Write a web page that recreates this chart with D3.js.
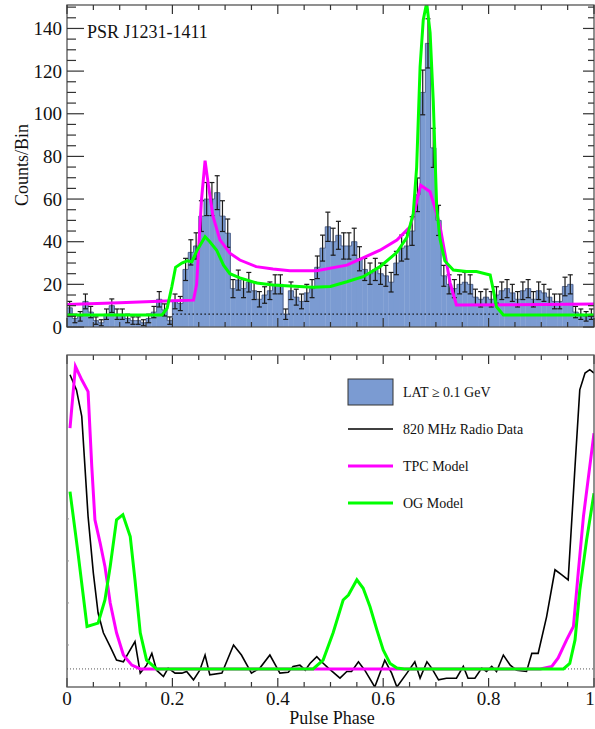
<!DOCTYPE html>
<html><head><meta charset="utf-8">
<script src="https://cdn.jsdelivr.net/npm/d3@7"></script>
<style>body{margin:0;background:#fff}svg{display:block}text{font-family:"Liberation Serif","DejaVu Serif",serif;fill:#111}</style>
</head><body><svg id="c" width="595" height="729"></svg>
<script>
// ---- data ----
const counts = [9,4,5,12,7,3,2,6,10,6, 6,4,3,3,2,4,7,13,8,3,
  12,11,27,35,38,52,60,60,63,52, 44,18,22,18,21,17,13,15,17,20,
  20,6,17,14,12,16,18,28,37,47, 40,43,38,38,40,32,27,25,27,25,
  24,21,30,37,38,45,62,110,133,84, 50,24,20,18,20,21,20,14,13,14,
  13,15,17,18,16,13,17,18,13,17, 16,14,12,12,19,20,7,6,5,6];
const tpcTop = [[0,10.6],[0.10,11.4],[0.20,12.3],[0.240,12.6],[0.246,20],[0.255,59],[0.262,78],[0.268,67],[0.277,52],[0.290,41],[0.309,34.6],[0.328,31.4],[0.359,28.3],[0.391,27.2],[0.423,26.4],[0.474,26.4],[0.531,29],[0.594,36],[0.626,40.8],[0.651,47],[0.662,57],[0.671,66.5],[0.689,63.4],[0.698,56],[0.708,47],[0.717,34.6],[0.727,20.6],[0.739,10.3],[0.85,10.4],[1.0,10.8]];
const ogTop = [[0,5.6],[0.18,5.6],[0.19,8.8],[0.199,19],[0.206,28],[0.218,30],[0.228,31],[0.237,30.6],[0.247,36],[0.262,42.3],[0.271,40],[0.284,36],[0.297,29],[0.309,25],[0.328,23],[0.36,20.6],[0.391,19.7],[0.423,19.2],[0.467,18.6],[0.50,19],[0.531,21.2],[0.562,23.6],[0.594,28.3],[0.626,35],[0.645,42],[0.657,53],[0.6635,75],[0.670,122],[0.676,144],[0.6825,152],[0.689,138],[0.695,106],[0.698,83],[0.7015,56],[0.708,41],[0.717,31],[0.733,26.7],[0.758,26],[0.777,26],[0.803,24.4],[0.809,17.3],[0.815,9.5],[0.828,5.6],[1,5.6]];
const background = {from:0.2, to:0.82, level:6};
const radio = [[0.0057,7.43],[0.018,7.07],[0.028,6.44],[0.040,4.06],[0.05,2.71],[0.059,1.76],[0.069,1.29],[0.082,0.96],[0.094,0.64],[0.107,0.60],[0.116,0.80],[0.129,1.08],[0.139,0.33],[0.151,0.52],[0.161,0.80],[0.170,0.40],[0.183,0.25],[0.192,0.45],[0.205,0.33],[0.218,0.33],[0.227,0.37],[0.240,0.17],[0.252,0.40],[0.262,0.76],[0.271,0.29],[0.294,0.33],[0.316,1.0],[0.331,0.76],[0.350,0.33],[0.366,0.45],[0.385,0.76],[0.404,0.33],[0.42,0.35],[0.429,0.49],[0.442,0.52],[0.452,0.40],[0.461,0.56],[0.474,0.72],[0.483,0.60],[0.496,0.45],[0.518,0.21],[0.531,0.37],[0.540,0.37],[0.553,0.60],[0.565,0.40],[0.584,0.0],[0.603,0.64],[0.616,0.33],[0.626,0.0],[0.645,0.33],[0.660,0.60],[0.670,0.21],[0.683,0.60],[0.692,0.45],[0.705,0.17],[0.720,0.21],[0.739,0.21],[0.752,0.49],[0.761,0.21],[0.774,0.21],[0.787,0.45],[0.796,0.37],[0.806,0.49],[0.815,0.37],[0.828,0.76],[0.841,0.52],[0.853,0.40],[0.872,0.37],[0.882,0.80],[0.894,0.80],[0.910,1.67],[0.926,2.79],[0.939,2.67],[0.951,2.55],[0.964,5.25],[0.973,7.07],[0.983,7.47],[0.992,7.55],[1.0,7.47]];
const tpcBot = [[0.0057,6.16],[0.016,7.63],[0.028,7.31],[0.040,7.03],[0.047,5.25],[0.053,3.98],[0.063,3.42],[0.072,2.87],[0.082,2.0],[0.094,1.29],[0.107,0.76],[0.123,0.52],[0.139,0.43],[0.898,0.43],[0.920,0.49],[0.932,0.69],[0.948,1.12],[0.961,1.44],[0.970,2.71],[0.980,4.06],[0.992,5.25],[1.0,6.04]];
const ogBot = [[0.0057,4.65],[0.021,3.18],[0.038,1.44],[0.059,1.52],[0.072,2.07],[0.082,2.87],[0.094,3.98],[0.106,4.10],[0.12,3.58],[0.129,2.55],[0.139,1.29],[0.151,0.64],[0.17,0.43],[0.467,0.43],[0.486,0.64],[0.505,1.29],[0.524,2.07],[0.534,2.19],[0.550,2.55],[0.562,2.35],[0.575,1.91],[0.588,1.36],[0.600,0.88],[0.613,0.56],[0.626,0.45],[0.640,0.43],[0.942,0.43],[0.954,0.56],[0.964,1.12],[0.973,2.30],[0.986,3.5],[1.0,4.61]];
const radioBaseline = 0.43;
const topYTicks = [0,20,40,60,80,100,120,140];
const xTicks = [0,0.2,0.4,0.6,0.8,1];
const xTickLabels = ["0","0.2","0.4","0.6","0.8","1"];
const legendItems = [
  {label:"LAT \u2265 0.1 GeV", type:"box", color:"#7b9bd2"},
  {label:"820 MHz Radio Data", type:"line", color:"#000", w:1.6},
  {label:"TPC Model", type:"line", color:"#ff00ff", w:3},
  {label:"OG Model", type:"line", color:"#00ff00", w:3}];
const title = "PSR J1231-1411";

// ---- layout ----
const svg = d3.select("#c");
const L = 67, R = 594;
const x = d3.scaleLinear().domain([0,1]).range([L,R]);
const yT = d3.scaleLinear().domain([0,151]).range([327,5]);
const yB = d3.scaleLinear().domain([0,7.9]).range([687,355]);
const BAR = "#7b9bd2";

svg.append("defs").html('<clipPath id="ct"><rect x="'+L+'" y="5" width="'+(R-L)+'" height="322"/></clipPath><clipPath id="cb"><rect x="'+L+'" y="355" width="'+(R-L)+'" height="332"/></clipPath>');

// --- top panel ---
const gT = svg.append("g").attr("clip-path","url(#ct)");
const nb = counts.length, bw = 1/nb;
gT.selectAll("rect.bar").data(counts).join("rect")
  .attr("x",(d,i)=>x(i*bw)).attr("width",x(bw)-x(0)+0.3)
  .attr("y",d=>yT(d)).attr("height",d=>yT(0)-yT(d)).attr("fill",BAR);
const step = [];
counts.forEach((d,i)=>{step.push([i*bw,d]);step.push([(i+1)*bw,d]);});
gT.append("path").attr("d",d3.line().x(d=>x(d[0])).y(d=>yT(d[1]))(step))
  .attr("fill","none").attr("stroke","#3d4f78").attr("stroke-width",0.8);
gT.append("line").attr("x1",x(background.from)).attr("x2",x(background.to))
  .attr("y1",yT(background.level)).attr("y2",yT(background.level))
  .attr("stroke","#111").attr("stroke-width",1.3).attr("stroke-dasharray","1.5,2.5");
// Poisson error bars
const eb = gT.append("g").attr("stroke","#1a1a1a").attr("stroke-width",1.2);
counts.forEach((d,i)=>{
  const e = Math.sqrt(d), cx = x((i+0.5)*bw);
  eb.append("line").attr("x1",cx).attr("x2",cx).attr("y1",yT(d+e)).attr("y2",yT(Math.max(0,d-e)));
  [d+e, Math.max(0,d-e)].forEach(v=>eb.append("line").attr("x1",cx-2.5).attr("x2",cx+2.5).attr("y1",yT(v)).attr("y2",yT(v)));
});
const lnT = d3.line().x(d=>x(d[0])).y(d=>yT(d[1]));
gT.append("path").attr("d",lnT(tpcTop)).attr("fill","none").attr("stroke","#ff00ff").attr("stroke-width",3);
gT.append("path").attr("d",lnT(ogTop)).attr("fill","none").attr("stroke","#00ff00").attr("stroke-width",3);

// frame + ticks
svg.append("rect").attr("x",L).attr("y",5).attr("width",R-L).attr("height",322).attr("fill","none").attr("stroke","#555").attr("stroke-width",1.3);
const tk = svg.append("g").attr("stroke","#333").attr("stroke-width",1.2);
for(let v=0; v<=150; v+=5){
  const maj = v%20===0, yy=yT(v);
  tk.append("line").attr("x1",L).attr("x2",L+(maj?17:9)).attr("y1",yy).attr("y2",yy);
  tk.append("line").attr("x1",R).attr("x2",R-(maj?11:6)).attr("y1",yy).attr("y2",yy);
}
for(let k=0;k<=20;k++){
  const p=k*0.05, maj=k%4===0, xx=x(p);
  tk.append("line").attr("x1",xx).attr("x2",xx).attr("y1",5).attr("y2",5+(maj?9:5));
  tk.append("line").attr("x1",xx).attr("x2",xx).attr("y1",327).attr("y2",327-(maj?9:5));
  tk.append("line").attr("x1",xx).attr("x2",xx).attr("y1",355).attr("y2",355+(maj?9:5));
  tk.append("line").attr("x1",xx).attr("x2",xx).attr("y1",687).attr("y2",687-(maj?9:5));
}
svg.selectAll("text.yl").data(topYTicks).join("text").attr("class","yl")
  .attr("x",62).attr("y",d=>yT(d)+6.5).attr("text-anchor","end").attr("font-size",19).text(d=>d);
svg.append("text").attr("transform","translate(28,165) rotate(-90)").attr("text-anchor","middle").attr("font-size",18).text("Counts/Bin");
svg.append("text").attr("x",87).attr("y",38).attr("font-size",18).text(title);

// --- bottom panel ---
const gB = svg.append("g").attr("clip-path","url(#cb)");
gB.append("line").attr("x1",x(0)).attr("x2",x(1)).attr("y1",yB(radioBaseline)).attr("y2",yB(radioBaseline))
  .attr("stroke","#555").attr("stroke-width",1).attr("stroke-dasharray","1,2");
const lnB = d3.line().x(d=>x(d[0])).y(d=>yB(d[1]));
gB.append("path").attr("d",lnB(radio)).attr("fill","none").attr("stroke","#000").attr("stroke-width",1.6);
gB.append("path").attr("d",lnB(tpcBot)).attr("fill","none").attr("stroke","#ff00ff").attr("stroke-width",3);
gB.append("path").attr("d",lnB(ogBot)).attr("fill","none").attr("stroke","#00ff00").attr("stroke-width",3);
svg.append("rect").attr("x",L).attr("y",355).attr("width",R-L).attr("height",332).attr("fill","none").attr("stroke","#555").attr("stroke-width",1.3);
for(let v=1; v<=4; v++){
  svg.append("line").attr("x1",L).attr("x2",L+2).attr("y1",yB(v)).attr("y2",yB(v)).attr("stroke","#999").attr("stroke-width",1);
}
svg.selectAll("text.xl").data(xTicks).join("text").attr("class","xl")
  .attr("x",d=>d===1? x(d)-4 : x(d)).attr("y",705).attr("text-anchor","middle").attr("font-size",19).text((d,i)=>xTickLabels[i]);
svg.append("text").attr("x",332).attr("y",724).attr("text-anchor","middle").attr("font-size",18).text("Pulse Phase");

// legend
const lg = svg.append("g");
legendItems.forEach((it,i)=>{
  const cy = [392,429,466,503][i];
  if(it.type==="box") lg.append("rect").attr("x",348).attr("y",cy-13).attr("width",45).attr("height",26).attr("fill",it.color).attr("stroke","#333").attr("stroke-width",1);
  else lg.append("line").attr("x1",348).attr("x2",393).attr("y1",cy).attr("y2",cy).attr("stroke",it.color).attr("stroke-width",it.w);
  lg.append("text").attr("x",403).attr("y",cy+5).attr("font-size",14).text(it.label);
});
</script></body></html>
